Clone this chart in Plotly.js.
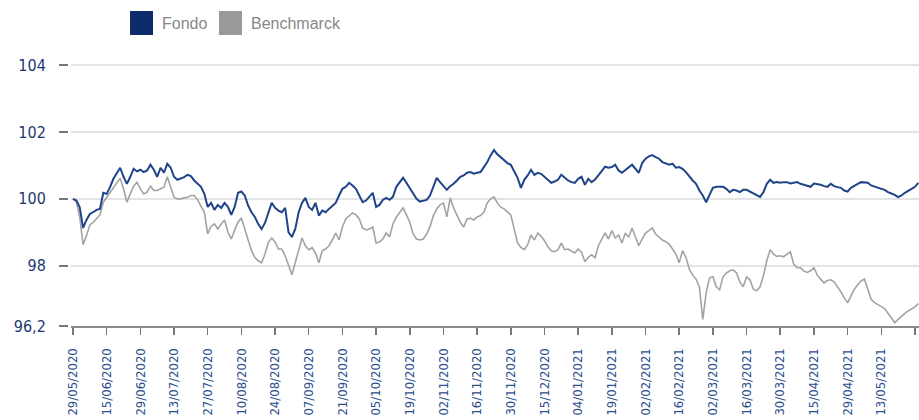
<!DOCTYPE html>
<html>
<head>
<meta charset="utf-8">
<script src="https://cdn.plot.ly/plotly-3.0.1.min.js"></script>
<style>
html,body{margin:0;padding:0;background:#fff;}
#chart{width:919px;height:420px;}
</style>
</head>
<body>
<div id="chart"></div>
<script>
const seriesNames = ["Fondo", "Benchmarck"];

const tickLabels = ["29/05/2020","15/06/2020","29/06/2020","13/07/2020","27/07/2020","10/08/2020",
  "24/08/2020","07/09/2020","21/09/2020","05/10/2020","19/10/2020","02/11/2020","16/11/2020",
  "30/11/2020","15/12/2020","04/01/2021","19/01/2021","02/02/2021","16/02/2021","02/03/2021",
  "16/03/2021","30/03/2021","15/04/2021","29/04/2021","13/05/2021","27/05/2021"];
const pointsPerTick = 10;

const yTickVals = [96.2, 98, 100, 102, 104];
const yTickText = ["96,2", "98", "100", "102", "104"];

const fondo = [
  100.00, 99.95, 99.75, 99.13, 99.37, 99.55, 99.60, 99.67, 99.70, 100.18,
  100.15, 100.35, 100.60, 100.75, 100.93, 100.66, 100.45, 100.66, 100.90, 100.82,
  100.87, 100.80, 100.85, 101.02, 100.87, 100.66, 100.93, 100.78, 101.05, 100.93,
  100.66, 100.57, 100.60, 100.65, 100.72, 100.68, 100.55, 100.45, 100.36, 100.15,
  99.76, 99.88, 99.67, 99.82, 99.73, 99.88, 99.76, 99.52, 99.76, 100.18,
  100.22, 100.10, 99.80, 99.60, 99.46, 99.25, 99.10, 99.28, 99.60, 99.88,
  99.73, 99.65, 99.60, 99.73, 99.00, 98.86, 99.10, 99.60, 99.88, 100.03,
  99.76, 99.67, 99.88, 99.50, 99.65, 99.60, 99.70, 99.78, 99.88, 100.10,
  100.30, 100.36, 100.48, 100.40, 100.30, 100.10, 99.90, 99.95, 100.05, 100.18,
  99.76, 99.82, 99.97, 100.03, 99.97, 100.06, 100.36, 100.50, 100.63, 100.48,
  100.33, 100.18, 100.00, 99.92, 99.95, 99.97, 100.10, 100.40, 100.63, 100.50,
  100.40, 100.27, 100.38, 100.45, 100.55, 100.66, 100.70, 100.78, 100.80, 100.75,
  100.78, 100.80, 100.95, 101.10, 101.30, 101.46, 101.33, 101.25, 101.15, 101.07,
  101.02, 100.82, 100.63, 100.33, 100.57, 100.70, 100.87, 100.72, 100.78, 100.75,
  100.66, 100.55, 100.48, 100.52, 100.57, 100.72, 100.63, 100.55, 100.50, 100.48,
  100.60, 100.66, 100.42, 100.60, 100.50, 100.58, 100.70, 100.82, 100.96, 100.93,
  100.95, 101.02, 100.85, 100.78, 100.87, 100.95, 101.02, 100.90, 100.78, 101.07,
  101.20, 101.27, 101.31, 101.25, 101.20, 101.10, 101.05, 101.02, 101.05, 100.93,
  100.95, 100.90, 100.80, 100.66, 100.55, 100.45, 100.25, 100.10, 99.90, 100.12,
  100.33, 100.36, 100.35, 100.36, 100.30, 100.20, 100.27, 100.25, 100.20, 100.27,
  100.27, 100.22, 100.18, 100.12, 100.06, 100.20, 100.45, 100.57, 100.48, 100.50,
  100.48, 100.50, 100.50, 100.46, 100.48, 100.50, 100.45, 100.42, 100.40, 100.36,
  100.46, 100.45, 100.42, 100.38, 100.36, 100.45, 100.38, 100.35, 100.33, 100.25,
  100.22, 100.33, 100.40, 100.45, 100.50, 100.50, 100.48, 100.40, 100.36, 100.34,
  100.30, 100.27, 100.20, 100.16, 100.12, 100.05, 100.10, 100.18, 100.25, 100.30,
  100.36, 100.48
];

const benchmark = [
  100.00, 99.92, 99.45, 98.63, 98.90, 99.22, 99.30, 99.40, 99.52, 99.90,
  100.05, 100.18, 100.35, 100.48, 100.62, 100.30, 99.90, 100.15, 100.38, 100.50,
  100.30, 100.15, 100.20, 100.38, 100.25, 100.25, 100.30, 100.35, 100.66, 100.38,
  100.05, 100.00, 100.00, 100.03, 100.05, 100.10, 100.10, 99.97, 99.76, 99.60,
  98.95, 99.18, 99.25, 99.10, 99.25, 99.37, 99.00, 98.80, 99.07, 99.30,
  99.43, 99.13, 98.77, 98.45, 98.25, 98.15, 98.09, 98.35, 98.70, 98.83,
  98.71, 98.50, 98.50, 98.30, 98.00, 97.73, 98.10, 98.45, 98.83, 98.60,
  98.48, 98.54, 98.38, 98.09, 98.45, 98.50, 98.60, 98.77, 98.98, 98.77,
  99.16, 99.40, 99.50, 99.58, 99.52, 99.40, 99.13, 99.07, 99.10, 99.16,
  98.68, 98.71, 98.80, 98.98, 98.86, 99.25, 99.45, 99.60, 99.73, 99.52,
  99.30, 98.95, 98.80, 98.77, 98.80, 98.95, 99.16, 99.50, 99.70, 99.82,
  99.88, 99.46, 100.03, 99.73, 99.50, 99.30, 99.16, 99.40, 99.42, 99.37,
  99.46, 99.50, 99.60, 99.88, 100.00, 100.06, 99.88, 99.75, 99.70, 99.60,
  99.52, 99.10, 98.68, 98.55, 98.48, 98.63, 98.92, 98.77, 98.98, 98.88,
  98.75, 98.57, 98.45, 98.42, 98.48, 98.68, 98.48, 98.50, 98.45, 98.38,
  98.50, 98.40, 98.12, 98.25, 98.33, 98.24, 98.60, 98.80, 98.98, 98.80,
  99.05, 98.83, 98.92, 98.68, 98.98, 98.85, 99.13, 98.86, 98.60, 98.80,
  98.98, 99.05, 99.13, 98.95, 98.85, 98.77, 98.72, 98.65, 98.50, 98.35,
  98.09, 98.45, 98.25, 97.90, 97.72, 97.60, 97.37, 96.40, 97.19, 97.64,
  97.67, 97.37, 97.28, 97.67, 97.78, 97.85, 97.88, 97.79, 97.52, 97.37,
  97.67, 97.58, 97.30, 97.25, 97.37, 97.70, 98.15, 98.48, 98.35, 98.28,
  98.30, 98.27, 98.35, 98.42, 98.05, 97.94, 97.94, 97.84, 97.80, 97.85,
  97.94, 97.72, 97.60, 97.49, 97.56, 97.58, 97.52, 97.38, 97.22, 97.04,
  96.89, 97.10, 97.30, 97.43, 97.55, 97.60, 97.28, 97.00, 96.90, 96.83,
  96.78, 96.72, 96.59, 96.45, 96.30, 96.40, 96.50, 96.58, 96.65, 96.70,
  96.77, 96.87
];

const colors = { fondo: "#1f4489", bench: "#a3a3a3", fondoKey: "#0b2b6b", benchKey: "#999999" };

const xIdx = fondo.map((_, i) => i);
const xTickVals = tickLabels.map((_, k) => k * pointsPerTick);

const traces = [
  { type: "scatter", mode: "lines", name: seriesNames[1], x: xIdx, y: benchmark,
    line: { color: colors.bench, width: 1.6 }, showlegend: false, hoverinfo: "skip" },
  { type: "scatter", mode: "lines", name: seriesNames[0], x: xIdx, y: fondo,
    line: { color: colors.fondo, width: 2 }, showlegend: false, hoverinfo: "skip" }
];

const layout = {
  width: 919, height: 420,
  margin: { l: 68, r: 0, t: 55, b: 94, pad: 0 },
  paper_bgcolor: "#ffffff", plot_bgcolor: "#ffffff",
  showlegend: false,
  xaxis: {
    domain: [0.0035, 1],
    range: [-0.6, 251.2],
    tickmode: "array", tickvals: xTickVals, ticktext: tickLabels,
    tickangle: -90,
    ticks: "outside", ticklen: 7, tickwidth: 1.5, tickcolor: "#777777",
    ticklabelstandoff: 8,
    tickfont: { family: "DejaVu Sans Condensed, DejaVu Sans, sans-serif", size: 13, color: "#2d4f8f" },
    showline: true, linecolor: "#8a8a8a", linewidth: 2,
    showgrid: false, zeroline: false, automargin: false, fixedrange: true
  },
  yaxis: {
    anchor: "free", position: 0,
    range: [96.2, 104.3],
    tickmode: "array", tickvals: yTickVals, ticktext: yTickText,
    ticks: "outside", ticklen: 9, tickwidth: 1.5, tickcolor: "#777777",
    ticklabelstandoff: 10,
    tickfont: { family: "DejaVu Sans Condensed, DejaVu Sans, sans-serif", size: 16, color: "#1d3870" },
    showline: false, showgrid: true, gridcolor: "#e4e4e4", gridwidth: 2,
    zeroline: false, automargin: false, fixedrange: true
  },
  shapes: [
    { type: "rect", xref: "paper", yref: "paper", x0: 0.0729, x1: 0.0999, y0: 1.0738, y1: 1.1624,
      fillcolor: colors.fondoKey, line: { width: 0 } },
    { type: "rect", xref: "paper", yref: "paper", x0: 0.1774, x1: 0.2045, y0: 1.0738, y1: 1.1624,
      fillcolor: colors.benchKey, line: { width: 0 } }
  ],
  annotations: [
    { xref: "paper", yref: "paper", x: 0.1085, y: 1.1144, xanchor: "left", yanchor: "middle",
      text: seriesNames[0], showarrow: false,
      font: { family: "Liberation Sans, Arial, sans-serif", size: 16, color: "#888888" } },
    { xref: "paper", yref: "paper", x: 0.2130, y: 1.1144, xanchor: "left", yanchor: "middle",
      text: seriesNames[1], showarrow: false,
      font: { family: "Liberation Sans, Arial, sans-serif", size: 16, color: "#888888" } }
  ]
};

Plotly.newPlot("chart", traces, layout, { displayModeBar: false, staticPlot: true });
</script>
</body>
</html>
